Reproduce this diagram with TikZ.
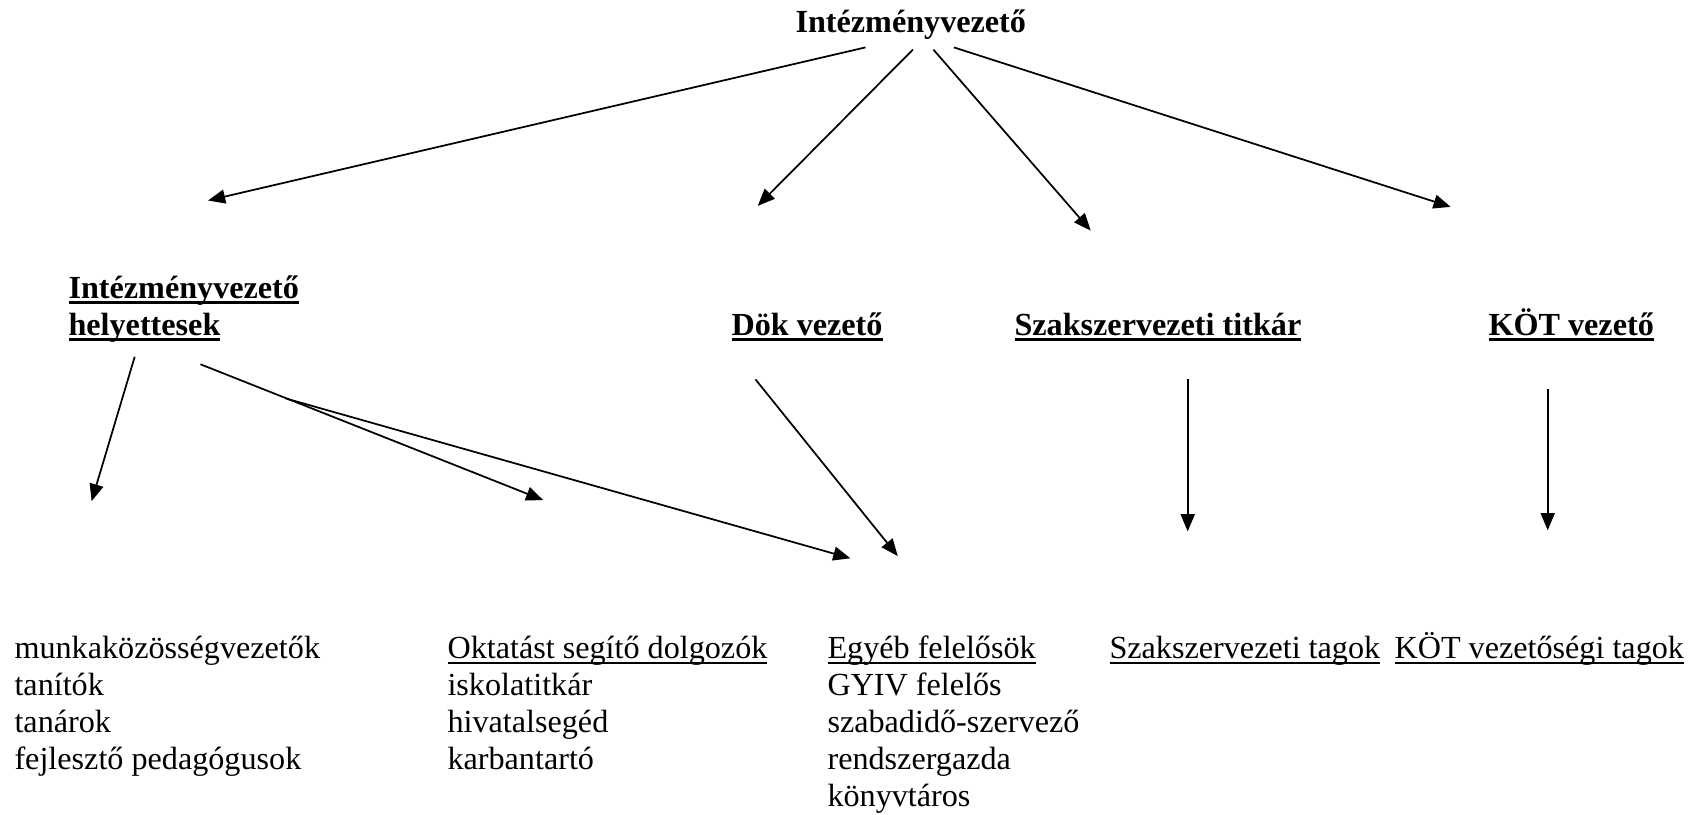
\documentclass[tikz,border=0pt]{standalone}
\usepackage{fontspec}
\setmainfont{Liberation Serif}
\usetikzlibrary{arrows.meta}

\newcommand{\ulin}[1]{\setbox0=\hbox{#1}\rlap{\rule[-2.2pt]{\wd0}{0.75pt}}\box0}
\newcommand{\ulbf}[1]{\setbox0=\hbox{\bfseries #1}\rlap{\rule[-2.4pt]{\wd0}{1.1pt}}\box0}

\tikzset{
  lbl/.style={inner sep=0pt, anchor=base west, align=left, font=\fontsize{12}{13.8}\selectfont},
  ttl/.style={lbl, font=\fontsize{12}{13.8}\selectfont\bfseries},
  arr/.style={-{Triangle[length=6.4pt,width=5.2pt]}, line width=0.65pt},
}

\begin{document}
\begin{tikzpicture}[x=0.373pt, y=-0.373pt]
      \useasboundingbox (0,0) rectangle (1690,815);

      % base anchor = baseline of the last line
      \node[ttl] (vezeto)    at (795,32)   {Intézményvezető};

      \node[lbl] (helyettes) at (68,335)   {\ulbf{Intézményvezető}\\\ulbf{helyettesek}};
      \node[lbl] (dok)       at (731,335)  {\ulbf{Dök vezető}};
      \node[lbl] (titkar)    at (1014,335) {\ulbf{Szakszervezeti titkár}};
      \node[lbl] (kot)       at (1488,335) {\ulbf{KÖT vezető}};

      \node[lbl] (munka)     at (14,769)   {munkaközösségvezetők\\tanítók\\tanárok\\fejlesztő pedagógusok};
      \node[lbl] (oktat)     at (447,769)  {\ulin{Oktatást segítő dolgozók}\\iskolatitkár\\hivatalsegéd\\karbantartó};
      \node[lbl] (egyeb)     at (827,806)  {\ulin{Egyéb felelősök}\\GYIV felelős\\szabadidő-szervező\\rendszergazda\\könyvtáros};
      \node[lbl] (tagok)     at (1109,658) {\ulin{Szakszervezeti tagok}};
      \node[lbl] (kottagok)  at (1394,658) {\ulin{KÖT vezetőségi tagok}};

      % top level
      \coordinate (v1) at (865.5,47.4);  \coordinate (h1)  at (208,200.5);
      \coordinate (v2) at (912.9,49.6);  \coordinate (d1)  at (757.7,205.9);
      \coordinate (v3) at (933.4,49.6);  \coordinate (t1)  at (1090.7,230.6);
      \coordinate (v4) at (953.9,47.4);  \coordinate (k1)  at (1450.7,206.9);

      % second level
      \coordinate (h2) at (134.7,356.8); \coordinate (m1)  at (91.6,501.2);
      \coordinate (h3) at (200.5,364.3); \coordinate (o1)  at (543.2,500.1);
      \coordinate (hs) at (285.6,398.4); \coordinate (e1)  at (850.4,558.3);
      \coordinate (d2) at (755.5,379.4); \coordinate (e2)  at (897.8,556.1);
      \coordinate (t2) at (1187.7,379.4);\coordinate (tg1) at (1187.7,531.4);
      \coordinate (k2) at (1547.7,389.1);\coordinate (kt1) at (1547.7,530.3);

      \draw [arr] (v1) -- (h1);
      \draw [arr] (v2) -- (d1);
      \draw [arr] (v3) -- (t1);
      \draw [arr] (v4) -- (k1);

      \draw [arr] (h2) -- (m1);
      \draw [arr] (h3) -- (o1);
      \draw [arr] (hs) -- (e1);
      \draw [arr] (d2) -- (e2);
      \draw [arr] (t2) -- (tg1);
      \draw [arr] (k2) -- (kt1);
    \end{tikzpicture}
\end{document}
